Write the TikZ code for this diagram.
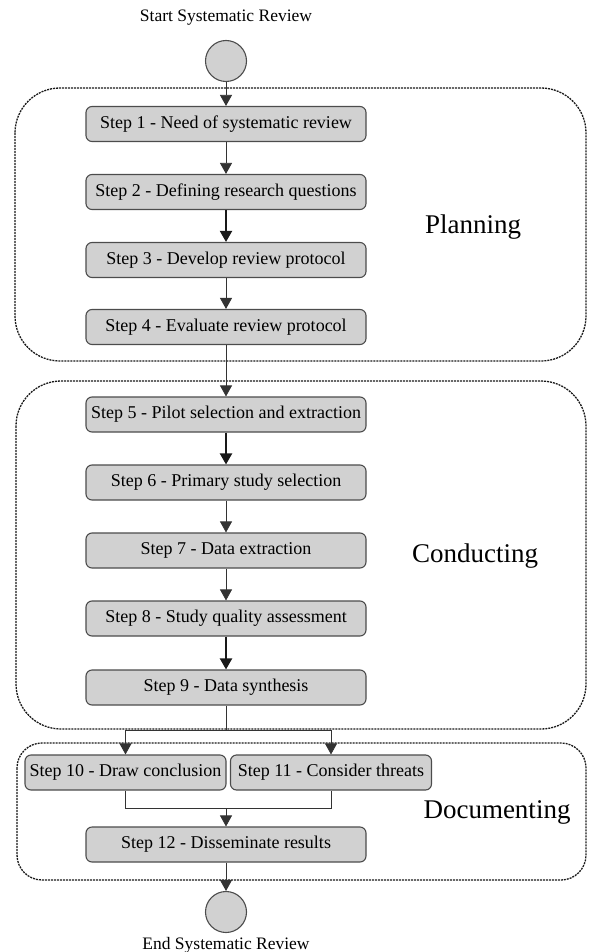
\documentclass[tikz,border=0pt]{standalone}
\usepackage{fontspec}
\setmainfont{Liberation Serif}
\usetikzlibrary{arrows.meta}
\begin{document}
\begin{tikzpicture}[x=1pt,y=-1pt,
  stepbox/.style={draw=black!70,line width=1.1pt,fill=black!18,rounded corners=6pt,
    minimum width=280pt,minimum height=35pt,inner sep=0pt,font=\fontsize{18}{20}\selectfont},
  smallbox/.style={stepbox,minimum width=201pt},
  endpt/.style={circle,draw=black!70,line width=1.1pt,fill=black!18,minimum size=41pt,inner sep=0pt},
  phase/.style={draw=black!90,line width=1.3pt,dash pattern=on 2pt off 1pt},
  phaselabel/.style={font=\fontsize{27}{30}\selectfont},
  caption/.style={font=\fontsize{17.5}{20}\selectfont},
  thin/.style={draw=black!80,line width=0.8pt,-{Triangle[width=12pt,length=11pt]}},
  thick/.style={draw=black!90,line width=2pt,-{Triangle[width=12pt,length=11pt]}},
  plain/.style={draw=black!80,line width=0.8pt}]
\useasboundingbox (0,0) rectangle (589,952);
% phase containers
\draw[phase,rounded corners=45pt] (15,88) rectangle (586,361);
\draw[phase,rounded corners=45pt] (16,381) rectangle (586,729);
\draw[phase,rounded corners=25pt] (17,743) rectangle (586,880);
\node[phaselabel] (pl) at (473,227) {Planning};
\node[phaselabel] (cl) at (475,556) {Conducting};
\node[phaselabel] (dl) at (497,812) {Documenting};
% start / end
\node[caption] (st) at (226,18) {Start Systematic Review};
\node[endpt] (s) at (226,61) {};
\node[endpt] (e) at (226,912) {};
\node[caption] (et) at (226,945) {End Systematic Review};
% steps
\node[stepbox] (s1) at (226,124) {Step 1 - Need of systematic review};
\node[stepbox] (s2) at (226,192) {Step 2 - Defining research questions};
\node[stepbox] (s3) at (226,260) {Step 3 - Develop review protocol};
\node[stepbox] (s4) at (226,327) {Step 4 - Evaluate review protocol};
\node[stepbox] (s5) at (226,414.5) {Step 5 - Pilot selection and extraction};
\node[stepbox] (s6) at (226,482.5) {Step 6 - Primary study selection};
\node[stepbox] (s7) at (226,550.5) {Step 7 - Data extraction};
\node[stepbox] (s8) at (226,618.5) {Step 8 - Study quality assessment};
\node[stepbox] (s9) at (226,687.5) {Step 9 - Data synthesis};
\node[smallbox] (s10) at (125.5,772.5) {Step 10 - Draw conclusion};
\node[smallbox] (s11) at (331,772.5) {Step 11 - Consider threats};
\node[stepbox] (s12) at (226,844.5) {Step 12 - Disseminate results};
% connectors
\draw[thin] (s) -- (s1);
\draw[thin] (s1) -- (s2);
\draw[thick] (s2) -- (s3);
\draw[thin] (s3) -- (s4);
\draw[thin] (s4) -- (s5);
\draw[thick] (s5) -- (s6);
\draw[thin] (s6) -- (s7);
\draw[thin] (s7) -- (s8);
\draw[thick] (s8) -- (s9);
\coordinate (b) at (226,730);
\coordinate (m) at (226,808);
\draw[plain] (s9.south) -- (b);
\draw[thin] (b) -| (s10.north);
\draw[thin] (b) -| (s11.north);
\draw[plain] (s10.south) |- (m) -| (s11.south);
\draw[thin] (m) -- (s12.north);
\draw[thin] (s12) -- (e);
\end{tikzpicture}
\end{document}
